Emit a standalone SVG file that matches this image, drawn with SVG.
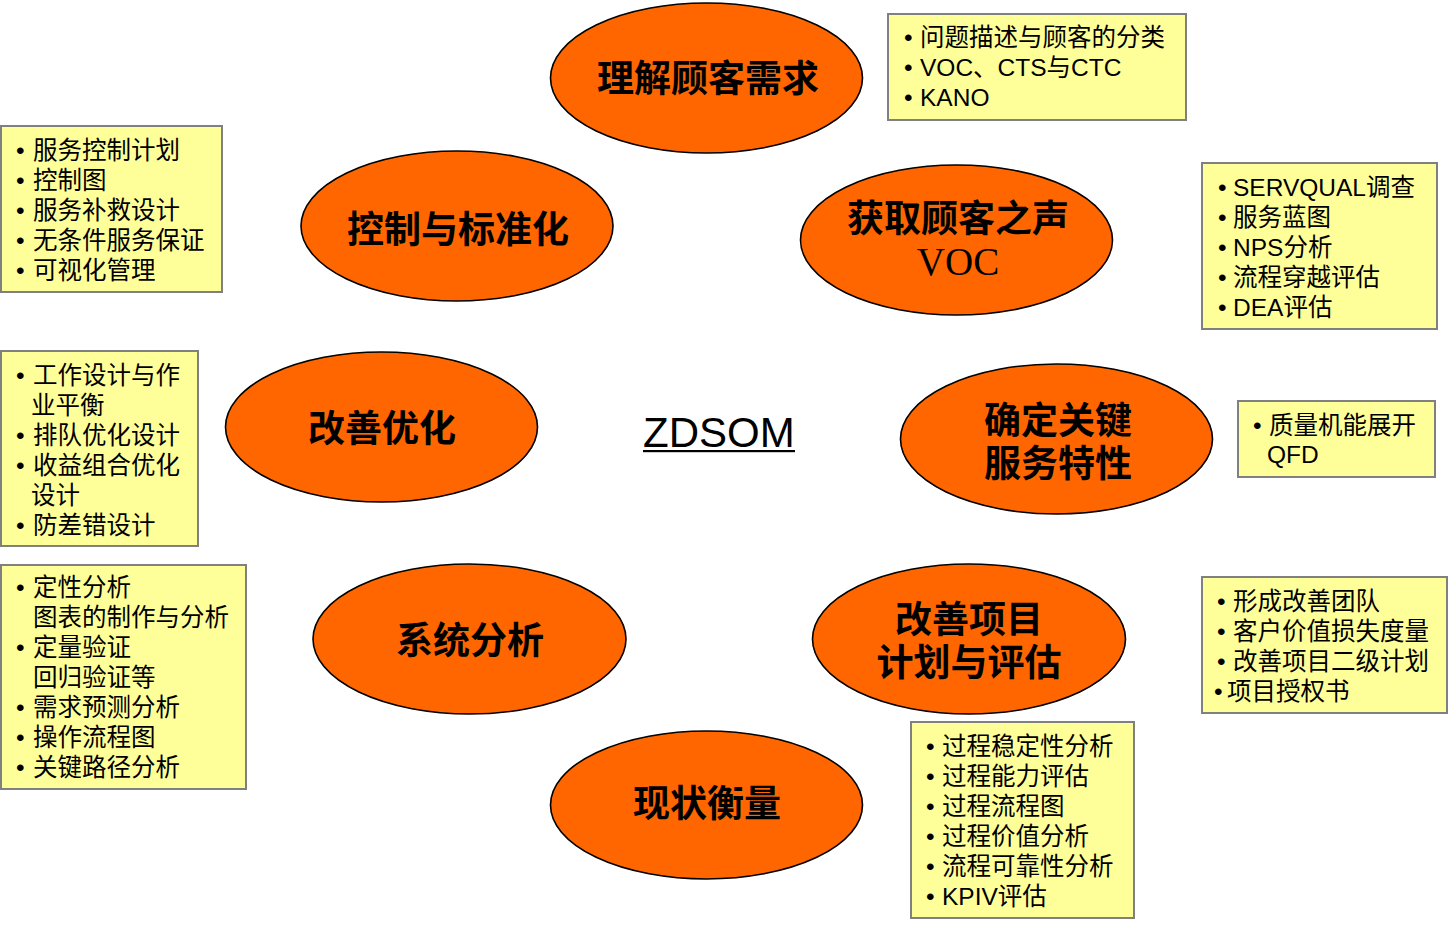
<svg xmlns="http://www.w3.org/2000/svg" width="1449" height="925" viewBox="0 0 1449 925">
<style>
.oval{fill:#FF6600;stroke:#000;stroke-width:1.6}
.ot{font-family:"Noto Sans CJK SC","Noto Sans CJK TC",sans-serif;font-weight:700;font-size:37px;fill:#000;text-anchor:middle}
.voc{font-family:"Liberation Serif","Noto Sans CJK SC",serif;font-weight:400;font-size:39px}
.box{fill:#FFFF99;stroke:#808080;stroke-width:2}
.bt{font-family:"Liberation Sans","Noto Sans CJK SC",sans-serif;font-size:24.5px;fill:#000}
.zd{font-family:"Liberation Sans",Arial,sans-serif;font-size:42px;fill:#000}
</style>
<rect width="1449" height="925" fill="#fff"/>
<g id="connectors"/>
<g id="center">
<text class="zd" x="643" y="447">ZDSOM</text>
<rect x="643" y="450" width="152" height="2.2" fill="#000"/>
</g>
<g id="n1"><ellipse class="oval" cx="706.5" cy="78" rx="156" ry="75"/><text class="ot" x="708" y="92">理解顾客需求</text></g>
<g id="n2"><ellipse class="oval" cx="956.5" cy="240" rx="156" ry="75"/><text class="ot"><tspan x="958" y="232">获取顾客之声</tspan><tspan class="voc" x="958" y="275">VOC</tspan></text></g>
<g id="n3"><ellipse class="oval" cx="1056.5" cy="439" rx="156" ry="75"/><text class="ot"><tspan x="1058" y="434">确定关键</tspan><tspan x="1058" y="477">服务特性</tspan></text></g>
<g id="n4"><ellipse class="oval" cx="969" cy="639" rx="156.5" ry="75"/><text class="ot"><tspan x="969" y="633">改善项目</tspan><tspan x="969" y="676">计划与评估</tspan></text></g>
<g id="n5"><ellipse class="oval" cx="706.5" cy="805" rx="156" ry="74"/><text class="ot" x="707" y="817">现状衡量</text></g>
<g id="n6"><ellipse class="oval" cx="469.5" cy="639" rx="156.5" ry="75"/><text class="ot" x="470" y="654">系统分析</text></g>
<g id="n7"><ellipse class="oval" cx="381.5" cy="427" rx="156" ry="75"/><text class="ot" x="382" y="442">改善优化</text></g>
<g id="n8"><ellipse class="oval" cx="457" cy="226" rx="156" ry="75"/><text class="ot" x="458" y="243">控制与标准化</text></g>

<g id="boxA"><rect class="box" x="888" y="14" width="298" height="106"/>
<text class="bt" y="46"><tspan x="904">•</tspan><tspan x="920">问题描述与顾客的分类</tspan></text>
<text class="bt" y="76"><tspan x="904">•</tspan><tspan x="920">VOC、CTS与CTC</tspan></text>
<text class="bt" y="106"><tspan x="904">•</tspan><tspan x="920">KANO</tspan></text>
</g>
<g id="boxB"><rect class="box" x="1202" y="163" width="235" height="166"/>
<text class="bt" y="196"><tspan x="1218">•</tspan><tspan x="1233">SERVQUAL调查</tspan></text>
<text class="bt" y="226"><tspan x="1218">•</tspan><tspan x="1233">服务蓝图</tspan></text>
<text class="bt" y="256"><tspan x="1218">•</tspan><tspan x="1233">NPS分析</tspan></text>
<text class="bt" y="286"><tspan x="1218">•</tspan><tspan x="1233">流程穿越评估</tspan></text>
<text class="bt" y="316"><tspan x="1218">•</tspan><tspan x="1233">DEA评估</tspan></text>
</g>
<g id="boxC"><rect class="box" x="1238" y="401" width="197" height="76"/>
<text class="bt" y="434"><tspan x="1253">•</tspan><tspan x="1269">质量机能展开</tspan></text>
<text class="bt" y="463"><tspan x="1267">QFD</tspan></text>
</g>
<g id="boxD"><rect class="box" x="1202" y="577" width="245" height="136"/>
<text class="bt" y="610"><tspan x="1217">•</tspan><tspan x="1233">形成改善团队</tspan></text>
<text class="bt" y="640"><tspan x="1217">•</tspan><tspan x="1233">客户价值损失度量</tspan></text>
<text class="bt" y="670"><tspan x="1217">•</tspan><tspan x="1233">改善项目二级计划</tspan></text>
<text class="bt" y="700"><tspan x="1214">•</tspan><tspan x="1227">项目授权书</tspan></text>
</g>
<g id="boxE"><rect class="box" x="911" y="722" width="223" height="196"/>
<text class="bt" y="755"><tspan x="926">•</tspan><tspan x="942">过程稳定性分析</tspan></text>
<text class="bt" y="785"><tspan x="926">•</tspan><tspan x="942">过程能力评估</tspan></text>
<text class="bt" y="815"><tspan x="926">•</tspan><tspan x="942">过程流程图</tspan></text>
<text class="bt" y="845"><tspan x="926">•</tspan><tspan x="942">过程价值分析</tspan></text>
<text class="bt" y="875"><tspan x="926">•</tspan><tspan x="942">流程可靠性分析</tspan></text>
<text class="bt" y="905"><tspan x="926">•</tspan><tspan x="942">KPIV评估</tspan></text>
</g>
<g id="boxF"><rect class="box" x="1" y="565" width="245" height="224"/>
<text class="bt" y="596"><tspan x="16">•</tspan><tspan x="33">定性分析</tspan></text>
<text class="bt" y="626"><tspan x="33">图表的制作与分析</tspan></text>
<text class="bt" y="656"><tspan x="16">•</tspan><tspan x="33">定量验证</tspan></text>
<text class="bt" y="686"><tspan x="33">回归验证等</tspan></text>
<text class="bt" y="716"><tspan x="16">•</tspan><tspan x="33">需求预测分析</tspan></text>
<text class="bt" y="746"><tspan x="16">•</tspan><tspan x="33">操作流程图</tspan></text>
<text class="bt" y="776"><tspan x="16">•</tspan><tspan x="33">关键路径分析</tspan></text>
</g>
<g id="boxG"><rect class="box" x="1" y="351" width="197" height="195"/>
<text class="bt" y="384"><tspan x="16">•</tspan><tspan x="33">工作设计与作</tspan></text>
<text class="bt" y="414"><tspan x="31">业平衡</tspan></text>
<text class="bt" y="444"><tspan x="16">•</tspan><tspan x="33">排队优化设计</tspan></text>
<text class="bt" y="474"><tspan x="16">•</tspan><tspan x="33">收益组合优化</tspan></text>
<text class="bt" y="504"><tspan x="31">设计</tspan></text>
<text class="bt" y="534"><tspan x="16">•</tspan><tspan x="33">防差错设计</tspan></text>
</g>
<g id="boxH"><rect class="box" x="1" y="126" width="221" height="166"/>
<text class="bt" y="159"><tspan x="16">•</tspan><tspan x="33">服务控制计划</tspan></text>
<text class="bt" y="189"><tspan x="16">•</tspan><tspan x="33">控制图</tspan></text>
<text class="bt" y="219"><tspan x="16">•</tspan><tspan x="33">服务补救设计</tspan></text>
<text class="bt" y="249"><tspan x="16">•</tspan><tspan x="33">无条件服务保证</tspan></text>
<text class="bt" y="279"><tspan x="16">•</tspan><tspan x="33">可视化管理</tspan></text>
</g>
</svg>
